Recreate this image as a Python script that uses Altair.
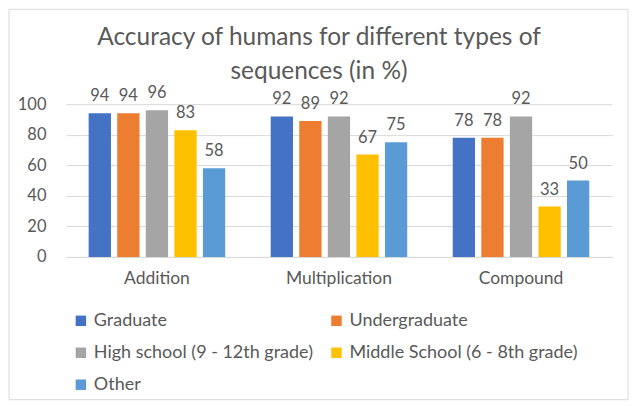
import altair as alt
import pandas as pd

categories = ["Addition", "Multiplication", "Compound"]
groups = ["Graduate", "Undergraduate", "High school (9 - 12th grade)",
          "Middle School (6 - 8th grade)", "Other"]
graduate = [94, 92, 78]
undergraduate = [94, 89, 78]
high_school = [96, 92, 92]
middle_school = [83, 67, 33]
other = [58, 75, 50]
colors = ["#4472C4", "#ED7D31", "#A5A5A5", "#FFC000", "#5B9BD5"]

series = [graduate, undergraduate, high_school, middle_school, other]
rows = []
for g, vals in zip(groups, series):
    for c, v in zip(categories, vals):
        rows.append({"Category": c, "Group": g, "Value": v})
df = pd.DataFrame(rows)

# legend fills column by column: order so rows read Graduate/Undergraduate, ...
legend_order = [0, 2, 4, 1, 3]
legend_domain = [groups[i] for i in legend_order]
legend_range = [colors[i] for i in legend_order]

FONT = "Lato"
GREY = "#595959"

x = alt.X("Category:N", sort=categories, title=None,
          scale=alt.Scale(paddingInner=0.25, paddingOuter=0.125),
          axis=alt.Axis(labelAngle=0, ticks=False, domainColor="#d9d9d9",
                        labelFontSize=17.5, labelColor=GREY, labelFont=FONT,
                        labelPadding=13, grid=False))
xo = alt.XOffset("Group:N", sort=groups,
                 scale=alt.Scale(paddingInner=0.22, paddingOuter=0.0))
y = alt.Y("Value:Q", title=None,
          scale=alt.Scale(domain=[0, 100]),
          axis=alt.Axis(values=[0, 20, 40, 60, 80, 100], domain=False, ticks=False,
                        gridColor="#d9d9d9", labelFontSize=16.5, labelColor=GREY,
                        labelFont=FONT, labelPadding=20))
color = alt.Color("Group:N",
                  scale=alt.Scale(domain=legend_domain, range=legend_range),
                  legend=alt.Legend(title=None, orient="none", legendX=6, legendY=208,
                                    columns=2, symbolType="square", symbolSize=110,
                                    symbolStrokeWidth=0, labelFontSize=18,
                                    labelColor=GREY, labelFont=FONT, rowPadding=14,
                                    columnPadding=14, labelLimit=400))

base = alt.Chart(df)
bars = base.mark_bar().encode(x=x, xOffset=xo, y=y, color=color)
labels = base.mark_text(dy=-17, fontSize=16.5, color=GREY, font=FONT).encode(
    x=x, xOffset=xo, y=y, text=alt.Text("Value:Q"))

border = alt.Chart(pd.DataFrame({"a": [0]})).mark_rect(
    fill=None, stroke="#d9d9d9", strokeWidth=1).encode(
    x=alt.value(-57), x2=alt.value(563), y=alt.value(-95), y2=alt.value(296))

chart = alt.layer(border, bars, labels).properties(
    width=547, height=153, padding=0,
    title=alt.Title(["Accuracy of humans for different types of", "sequences (in %)"],
                    fontSize=24.5, font=FONT, fontWeight="normal", color=GREY,
                    lineHeight=34, offset=-76, dx=-20, anchor="middle"),
).configure_view(stroke=None)

chart.save("out.html", embed_options={"renderer": "svg", "actions": False})
